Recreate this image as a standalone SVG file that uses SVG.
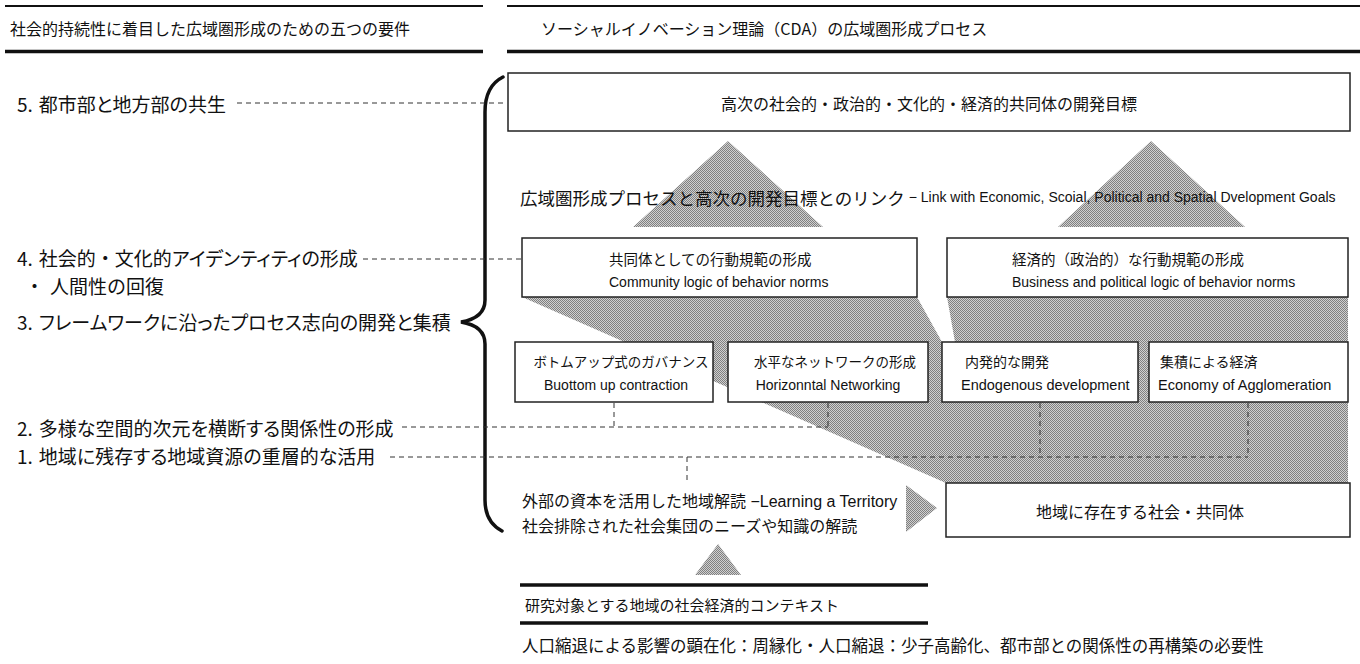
<svg xmlns="http://www.w3.org/2000/svg" width="1360" height="664" viewBox="0 0 1360 664">
<defs>
<pattern id="ht" width="2" height="2" patternUnits="userSpaceOnUse">
<rect width="2" height="2" fill="#d0d0d0"/>
<rect width="1" height="1" fill="#808080"/>
<rect x="1" y="1" width="1" height="1" fill="#808080"/>
</pattern>
</defs>
<style>
.jp{font-family:'Noto Sans CJK JP',sans-serif;fill:#111}
.en{font-family:'Liberation Sans','Noto Sans CJK JP',sans-serif;fill:#111}
.item{font-family:'Noto Sans CJK JP',sans-serif;fill:#111;font-size:19px;font-feature-settings:"palt"}
.fw{font-feature-settings:normal}
.box{fill:#fff;stroke:#222;stroke-width:1.5}
.dash{fill:none;stroke:#333;stroke-width:1;stroke-dasharray:5 4}
.gray{fill:url(#ht)}
.thin{stroke:#111;stroke-width:2}
.thick{stroke:#111;stroke-width:3.5}
.brace{fill:none;stroke:#111;stroke-width:3.5;stroke-linecap:round}
text{dominant-baseline:central}
</style>
<rect width="1360" height="664" fill="#fff"/>

<g id="header-left">
<line class="thin" x1="5" y1="6" x2="483" y2="6"/>
<text class="jp" x="10" y="28" font-size="16">社会的持続性に着目した広域圏形成のための五つの要件</text>
<line class="thick" x1="5" y1="51.5" x2="483" y2="51.5"/>
</g>
<g id="header-right">
<line class="thin" x1="507" y1="6" x2="1360" y2="6"/>
<text class="jp" x="541" y="28" font-size="16">ソーシャルイノベーション理論（CDA）の広域圏形成プロセス</text>
<line class="thick" x1="507" y1="51.5" x2="1360" y2="51.5"/>
</g>

<g id="requirements">
<text class="item" x="17" y="103">5.<tspan dx="6">都市部と地方部の共生</tspan></text>
<text class="item" x="17" y="257">4.<tspan dx="6">社会的</tspan><tspan class="fw">・</tspan>文化的アイデンティティの形成</text>
<text class="jp" x="25" y="285" font-size="19">・<tspan dx="6">人間性の回復</tspan></text>
<text class="item" x="17" y="321">3.<tspan dx="6">フレームワークに沿ったプロセス志向の開発と集積</tspan></text>
<text class="item" x="17" y="427">2.<tspan dx="6">多様な空間的次元を横断する関係性の形成</tspan></text>
<text class="item" x="17" y="455">1.<tspan dx="6">地域に残存する地域資源の重層的な活用</tspan></text>
</g>

<g id="brace">
<path class="brace" d="M503,77 Q485,86 485,112 L485,300 Q485,318 461,322 Q485,326 485,344 L485,500 Q485,522 502,531"/>
</g>

<g id="shading">
<polygon class="gray" points="522,297 917,297 942,342 955,342 947,297 1348,297 1348,483 946,483"/>
<polygon class="gray" points="728,141 633,227 823,227"/>
<polygon class="gray" points="1151,141 1058,227 1245,227"/>
<polygon class="gray" points="906,485 906,532 937,508"/>
<polygon class="gray" points="718,544 695,575 741,575"/>
</g>

<g id="goal">
<rect class="box" x="508" y="73" width="842" height="58"/>
<text class="jp" x="929" y="103" font-size="16" text-anchor="middle">高次の社会的・政治的・文化的・経済的共同体の開発目標</text>
</g>

<g id="link-label">
<text class="en" x="520" y="197"><tspan font-size="17.5" font-family="'Noto Sans CJK JP',sans-serif">広域圏形成プロセスと高次の開発目標とのリンク</tspan><tspan font-size="14"> − Link with Economic, Scoial, Political and Spatial Dvelopment Goals</tspan></text>
</g>

<g id="community-norms">
<rect class="box" x="522" y="238" width="395" height="59"/>
<text class="jp" x="609" y="258" font-size="14.5">共同体としての行動規範の形成</text>
<text class="en" x="609" y="282" font-size="14">Community logic of behavior norms</text>
</g>
<g id="business-norms">
<rect class="box" x="947" y="238" width="401" height="59"/>
<text class="jp" x="1012" y="258" font-size="14.5">経済的（政治的）な行動規範の形成</text>
<text class="en" x="1012" y="282" font-size="14">Business and political logic of behavior norms</text>
</g>

<g id="bottom-up">
<rect class="box" x="515" y="342" width="198" height="60"/>
<text class="jp" x="621" y="361" font-size="13.5" text-anchor="middle">ボトムアップ式のガバナンス</text>
<text class="en" x="616" y="385" font-size="14" text-anchor="middle">Buottom up contraction</text>
</g>
<g id="horizontal">
<rect class="box" x="728" y="342" width="200" height="60"/>
<text class="jp" x="835" y="361" font-size="13.5" text-anchor="middle">水平なネットワークの形成</text>
<text class="en" x="828" y="385" font-size="14" text-anchor="middle">Horizonntal Networking</text>
</g>
<g id="endogenous">
<rect class="box" x="942" y="342" width="196" height="60"/>
<text class="jp" x="965" y="361" font-size="14">内発的な開発</text>
<text class="en" x="961" y="385" font-size="14.5">Endogenous development</text>
</g>
<g id="agglomeration">
<rect class="box" x="1149" y="342" width="199" height="60"/>
<text class="jp" x="1160" y="361" font-size="14">集積による経済</text>
<text class="en" x="1158" y="385" font-size="14.5">Economy of Agglomeration</text>
</g>

<g id="connectors">
<path class="dash" d="M237,103 H507"/>
<path class="dash" d="M363,259 H521"/>
<path class="dash" d="M402,427 H828 M614,403 V427 M828,403 V427"/>
<path class="dash" d="M390,457 H1248 M1040,403 V457 M1248,403 V457 M687,457 V482"/>
</g>

<g id="learning">
<text class="en" x="522" y="501" font-size="16">外部の資本を活用した地域解読 −Learning a Territory</text>
<text class="jp" x="522" y="525" font-size="16">社会排除された社会集団のニーズや知識の解読</text>
</g>

<g id="local-community">
<rect class="box" x="946" y="483" width="404" height="54"/>
<text class="jp" x="1140" y="511" font-size="16" text-anchor="middle">地域に存在する社会・共同体</text>
</g>

<g id="context">
<line class="thick" x1="520" y1="585" x2="928" y2="585"/>
<text class="jp" x="525" y="604" font-size="15">研究対象とする地域の社会経済的コンテキスト</text>
<line class="thick" x1="520" y1="623" x2="928" y2="623"/>
<text class="jp" x="522" y="645" font-size="16.5">人口縮退による影響の顕在化：周縁化・人口縮退：少子高齢化、都市部との関係性の再構築の必要性</text>
</g>
</svg>
